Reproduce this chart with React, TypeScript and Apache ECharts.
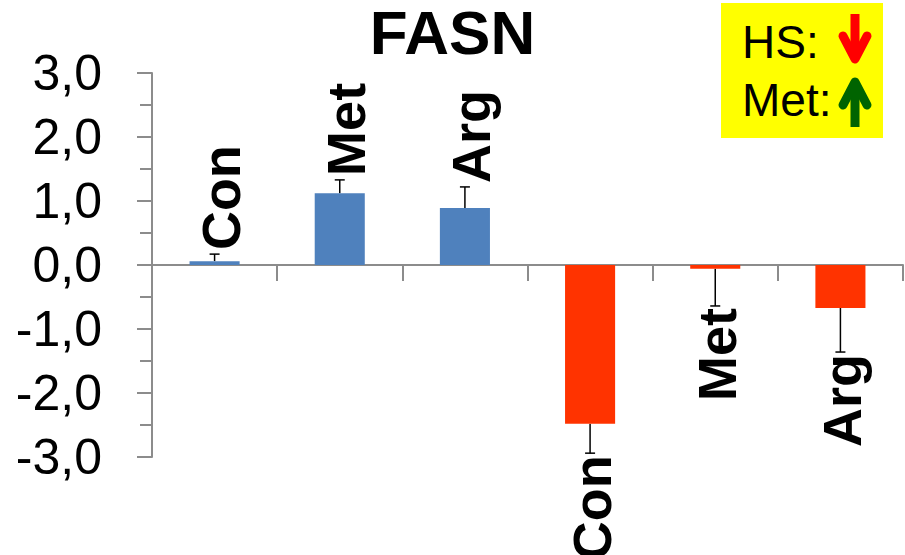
import React, { useEffect, useRef } from "react";
import * as echarts from "echarts";

const categories = ["Con", "Met", "Arg", "Con", "Met", "Arg"];
const values = [0.06, 1.12, 0.89, -2.48, -0.06, -0.67];
const errors = [0.11, 0.21, 0.33, 0.46, 0.58, 0.69];
const barColors = ["#4F81BD", "#4F81BD", "#4F81BD", "#FF3300", "#FF3300", "#FF3300"];
const yTicks = [-3, -2, -1, 0, 1, 2, 3];

const FONT = "'Liberation Sans', Arial, sans-serif";

export default function App() {
  const ref = useRef<HTMLDivElement>(null);
  useEffect(() => {
    document.body.style.margin = "0";
    if (!ref.current) return;
    const chart = echarts.init(ref.current, undefined, { renderer: "svg" });
    const option: any = {
      animation: false,
      backgroundColor: "#ffffff",
      title: {
        text: "FASN",
        left: "center",
        top: 1,
        padding: 0,
        textStyle: { fontFamily: FONT, fontSize: 62, fontWeight: "bold", color: "#000" },
      },
      grid: { left: 152, right: 2, top: 73, bottom: 98 },
      xAxis: {
        type: "category",
        data: categories,
        axisLine: { lineStyle: { color: "#8c8c8c", width: 2 } },
        axisTick: { show: true, length: 16, lineStyle: { color: "#8c8c8c", width: 2 } },
        axisLabel: { show: false },
      },
      yAxis: {
        type: "value",
        min: yTicks[0],
        max: yTicks[yTicks.length - 1],
        interval: 1,
        axisLine: { show: true, lineStyle: { color: "#8c8c8c", width: 2 } },
        axisTick: { show: true, length: 15, lineStyle: { color: "#8c8c8c", width: 2 } },
        minorTick: { show: true, splitNumber: 2, length: 12, lineStyle: { color: "#8c8c8c", width: 2 } },
        splitLine: { show: false },
        axisLabel: {
          margin: 50,
          fontFamily: FONT,
          fontSize: 50,
          color: "#000",
          formatter: (v: number) => v.toFixed(1).replace(".", ","),
        },
      },
      series: [
        {
          type: "bar",
          barWidth: "40%",
          data: values.map((v, i) => ({ value: v, itemStyle: { color: barColors[i] } })),
        },
        {
          type: "custom",
          clip: false,
          data: values.map((v, i) => [i, v, errors[i]]),
          encode: { x: 0, y: 1 },
          renderItem: (params: any, api: any) => {
            const i = api.value(0);
            const v = api.value(1);
            const e = api.value(2);
            const sign = v >= 0 ? 1 : -1;
            const base = api.coord([i, v]);
            const end = api.coord([i, v + sign * e]);
            const label = categories[params.dataIndex];
            const gap = sign > 0 ? 4 : 2;
            const dx = sign > 0 ? 6 : 2;
            return {
              type: "group",
              children: [
                {
                  type: "line",
                  shape: { x1: base[0], y1: base[1], x2: end[0], y2: end[1] },
                  style: { stroke: "#000", lineWidth: 1.5 },
                },
                {
                  type: "line",
                  shape: { x1: end[0] - 5, y1: end[1], x2: end[0] + 5, y2: end[1] },
                  style: { stroke: "#000", lineWidth: 1.5 },
                },
                {
                  type: "text",
                  x: end[0] + dx,
                  y: end[1] - sign * gap,
                  rotation: Math.PI / 2,
                  style: {
                    text: label,
                    fontFamily: FONT,
                    fontSize: 54,
                    fontWeight: "bold",
                    fill: "#000",
                    align: sign > 0 ? "left" : "right",
                    verticalAlign: "middle",
                  },
                },
              ],
            };
          },
        },
      ],
      graphic: [
        { type: "rect", shape: { x: 721, y: 3, width: 162, height: 135 }, style: { fill: "#FFFF00" } },
        {
          type: "text",
          x: 742,
          y: 42,
          style: { text: "HS:", fontFamily: FONT, fontSize: 46, fill: "#000", verticalAlign: "middle" },
        },
        {
          type: "text",
          x: 742,
          y: 100,
          style: { text: "Met:", fontFamily: FONT, fontSize: 46, fill: "#000", verticalAlign: "middle" },
        },
        {
          type: "polyline",
          shape: { points: [[855, 14], [855, 58]] },
          style: { stroke: "#FF0000", lineWidth: 9, lineCap: "butt", fill: null },
        },
        {
          type: "polyline",
          shape: { points: [[843, 36], [855, 59], [867, 36]] },
          style: { stroke: "#FF0000", lineWidth: 9, lineCap: "round", lineJoin: "round", fill: null },
        },
        {
          type: "polyline",
          shape: { points: [[855, 127], [855, 83]] },
          style: { stroke: "#006400", lineWidth: 9, lineCap: "butt", fill: null },
        },
        {
          type: "polyline",
          shape: { points: [[843, 105], [855, 82], [867, 105]] },
          style: { stroke: "#006400", lineWidth: 9, lineCap: "round", lineJoin: "round", fill: null },
        },
      ],
    };
    chart.setOption(option);
    return () => chart.dispose();
  }, []);
  return <div ref={ref} style={{ width: 905, height: 555 }} />;
}
